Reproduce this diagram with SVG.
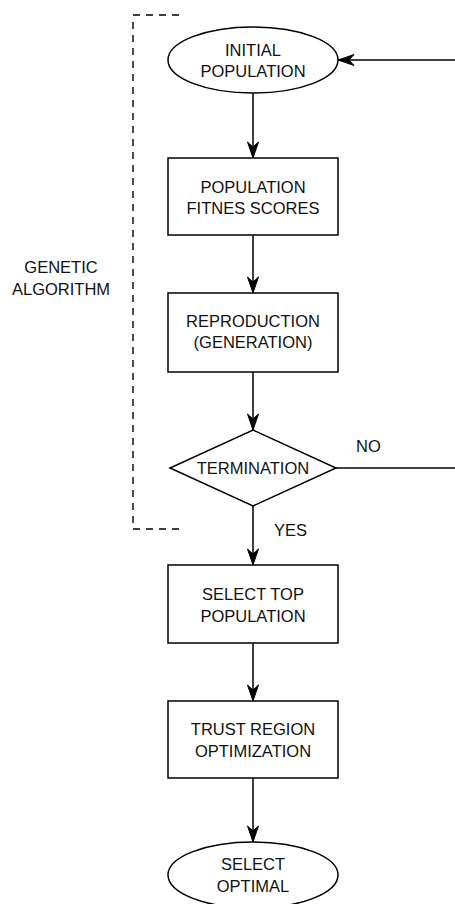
<svg xmlns="http://www.w3.org/2000/svg" width="455" height="904" viewBox="0 0 455 904">
<style>
.shape{fill:#fff;stroke:#000;stroke-width:1.5}
.conn{fill:none;stroke:#000;stroke-width:1.5}
.dash{fill:none;stroke:#000;stroke-width:1.4;stroke-dasharray:7 6}
text{font-family:"Liberation Sans",Arial,sans-serif;font-size:16.5px;fill:#111;text-anchor:middle}
.lbl{text-anchor:start}
</style>
<defs>
<marker id="arr" markerUnits="userSpaceOnUse" markerWidth="20" markerHeight="14" viewBox="-17 -7 18 14" refX="0" refY="0" orient="auto">
<path d="M0,0 L-16,-5.5 L-11,0 L-16,5.5 Z" fill="#000" stroke="#000" stroke-width="1"/>
</marker>
</defs>
<rect width="455" height="904" fill="#fff"/>
<g id="ga-bracket">
<line class="dash" x1="133" y1="15" x2="181" y2="15"/>
<line class="dash" x1="133" y1="22" x2="133" y2="529"/>
<line class="dash" x1="133" y1="529" x2="181" y2="529"/>
<text x="61" y="273">GENETIC</text>
<text x="61" y="295">ALGORITHM</text>
</g>
<g id="connectors">
<line class="conn" x1="253" y1="93" x2="253" y2="158" marker-end="url(#arr)"/>
<line class="conn" x1="253" y1="235" x2="253" y2="293" marker-end="url(#arr)"/>
<line class="conn" x1="253" y1="372" x2="253" y2="430" marker-end="url(#arr)"/>
<line class="conn" x1="253" y1="506" x2="253" y2="565" marker-end="url(#arr)"/>
<line class="conn" x1="253" y1="643" x2="253" y2="701" marker-end="url(#arr)"/>
<line class="conn" x1="253" y1="778" x2="253" y2="842" marker-end="url(#arr)"/>
<line class="conn" x1="336" y1="468" x2="455" y2="468"/>
<line class="conn" x1="455" y1="60" x2="338" y2="60" marker-end="url(#arr)"/>
<text class="lbl" x="356" y="452">NO</text>
<text class="lbl" x="274" y="536">YES</text>
</g>
<g id="initial-population">
<ellipse class="shape" cx="253" cy="60" rx="85" ry="33"/>
<text x="253" y="56">INITIAL</text>
<text x="253" y="77">POPULATION</text>
</g>
<g id="fitness-scores">
<rect class="shape" x="168" y="158" width="170" height="77"/>
<text x="253" y="193">POPULATION</text>
<text x="253" y="214">FITNES SCORES</text>
</g>
<g id="reproduction">
<rect class="shape" x="168" y="293" width="170" height="79"/>
<text x="253" y="327">REPRODUCTION</text>
<text x="253" y="348">(GENERATION)</text>
</g>
<g id="termination">
<polygon class="shape" points="253,430 336,468 253,506 170,468"/>
<text x="253" y="474">TERMINATION</text>
</g>
<g id="select-top">
<rect class="shape" x="168" y="565" width="170" height="78"/>
<text x="253" y="600">SELECT TOP</text>
<text x="253" y="622">POPULATION</text>
</g>
<g id="trust-region">
<rect class="shape" x="168" y="701" width="170" height="77"/>
<text x="253" y="735">TRUST REGION</text>
<text x="253" y="757">OPTIMIZATION</text>
</g>
<g id="select-optimal">
<ellipse class="shape" cx="253" cy="875" rx="85" ry="33"/>
<text x="253" y="870">SELECT</text>
<text x="253" y="892">OPTIMAL</text>
</g>
</svg>
